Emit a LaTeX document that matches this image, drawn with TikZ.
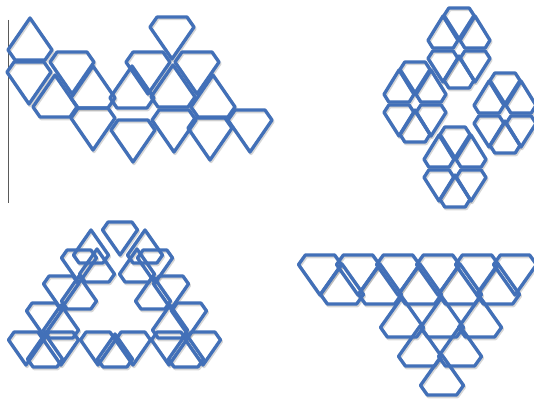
\documentclass[tikz,border=0pt]{standalone}
\usepackage{tikz}
\definecolor{gemblue}{RGB}{66,112,184}
\definecolor{edgegray}{RGB}{90,90,90}
\tikzset{gem/.style={draw=gemblue,line width=3.3pt,line join=round},
  gemshadow/.style={draw=black!45,opacity=0.35,line width=3.3pt,line join=round},
  frameline/.style={draw=edgegray,line width=1pt}}
% up gem: x centre, base y, half width, height
\newcommand\gu[4]{\draw[gem] ({#1-0.68*#3},{#2}) -- ({#1+0.68*#3},{#2}) -- ({#1+#3},{#2-0.24*#4}) -- ({#1},{#2-#4}) -- ({#1-#3},{#2-0.24*#4}) -- cycle;}
% down gem: x centre, top y, half width, height
\newcommand\gd[4]{\draw[gem] ({#1-0.68*#3},{#2}) -- ({#1+0.68*#3},{#2}) -- ({#1+#3},{#2+0.24*#4}) -- ({#1},{#2+#4}) -- ({#1-#3},{#2+0.24*#4}) -- cycle;}
% group sizes
\newcommand\ua[2]{\gu{#1}{#2}{22}{42}}
\newcommand\da[2]{\gd{#1}{#2}{22}{42}}
\newcommand\ub[2]{\gu{#1}{#2}{15}{32}}
\newcommand\db[2]{\gd{#1}{#2}{15}{31}}
\newcommand\uc[2]{\gu{#1}{#2}{17.5}{33}}
\newcommand\dc[2]{\gd{#1}{#2}{17.5}{33}}
\newcommand\ud[2]{\gu{#1}{#2}{21.5}{40}}
\newcommand\dd[2]{\gd{#1}{#2}{21.5}{40}}
\newcommand\hexa[2]{%
  \db{#1}{#2-41}\ub{#1-16}{#2-1}\ub{#1+16}{#2-1}%
  \db{#1-16}{#2+2}\db{#1+16}{#2+2}\ub{#1}{#2+39}}
\newcommand\allgems{%
% ---------- group 1 (top left)
\ua{30}{60} \da{29}{62} \da{72}{52}
\ua{55}{117} \ua{93}{108} \da{93}{108}
\da{148}{52} \ua{132}{108} \da{133}{120}
\da{172}{17} \da{197}{52} \ua{173}{107} \da{174}{110}
\ua{213}{117} \da{210}{118} \da{250}{110}
% ---------- group 2 (top right): four hexagons
\hexa{459}{49}
\hexa{415}{103}
\hexa{505}{114}
\hexa{455}{168}
% ---------- group 3 (bottom left)
\dc{26}{332} \dc{61}{332} \uc{45}{367}
\dc{98}{332} \dc{133}{332} \uc{115}{367}
\dc{169}{332} \dc{203}{332} \uc{186}{367}
\dc{44}{303} \uc{61}{338} \uc{170}{338} \dc{189}{303}
\dc{61}{276} \uc{79}{309} \uc{153}{309} \dc{171}{276}
\dc{79}{250} \uc{97}{282} \uc{137}{282} \dc{155}{250}
\uc{91}{263} \dc{120}{222} \uc{145}{263}
% ---------- group 4 (bottom right)
\dd{320}{255} \dd{358}{255} \dd{398}{255} \dd{438}{255} \dd{477}{255} \dd{515}{255}
\ud{342}{304} \ud{380}{304} \ud{420}{304} \ud{460}{304} \ud{498}{304}
\ud{402}{337} \ud{442}{337} \ud{480}{337}
\ud{420}{366} \ud{460}{366}
\ud{442}{395}}
\begin{document}
\begin{tikzpicture}[x=1pt,y=-1pt]
\useasboundingbox (0,0) rectangle (534,401);
\fill[white] (0,0) rectangle (534,401);
% thin vertical line at the left
\draw[frameline] (8,20) -- (8,203);
% soft shadows first
\begin{scope}[shift={(1,1.6)}]
\tikzset{gem/.style={gemshadow}}
\allgems
\end{scope}
% the outlines
\allgems
\end{tikzpicture}
\end{document}
